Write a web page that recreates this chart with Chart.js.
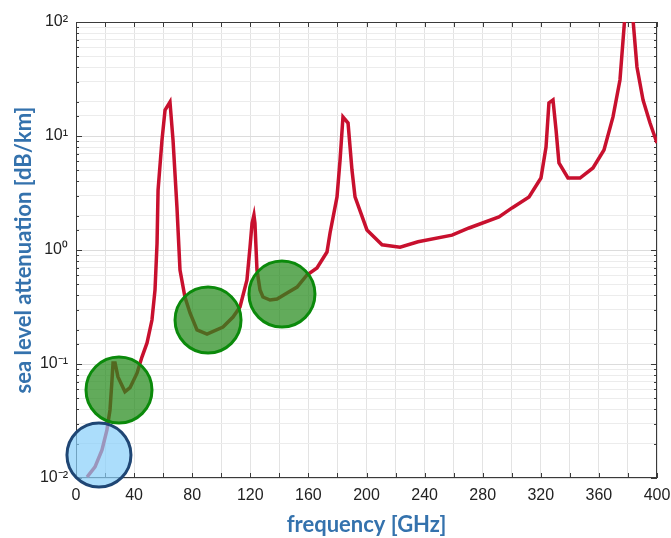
<!DOCTYPE html>
<html>
<head>
<meta charset="utf-8">
<script src="https://cdn.jsdelivr.net/npm/chart.js@4/dist/chart.umd.min.js"></script>
<style>
  html, body { margin: 0; padding: 0; background: #fff; }
  #wrap { width: 671px; height: 538px; }
</style>
</head>
<body>
<div id="wrap"><canvas id="atten"></canvas></div>
<script>
// sea-level specific attenuation vs frequency (dB/km)
const freqGHz = [
  7.6, 13.1, 17.9, 21.3, 23.4, 24.8, 25.5, 26.9, 28.9, 33.7, 37.2, 42.0, 45.4, 48.9,
  52.3, 54.4, 55.8, 56.5, 59.2, 61.3, 64.7, 66.8, 69.5, 71.6, 75.0, 78.5, 83.3, 90.2,
  101.2, 108.1, 112.9, 117.7, 119.8, 121.2, 122.5, 123.2, 124.6, 126.7, 128.7, 133.6,
  138.4, 145.3, 152.2, 159.0, 165.9, 172.8, 174.9, 179.7, 181.8, 183.8, 187.3, 190.0,
  192.1, 200.3, 210.7, 223.1, 235.5, 258.9, 270.6, 291.2, 300.2, 311.9, 320.1, 323.6,
  325.6, 328.4, 330.5, 332.5, 338.7, 347.0, 355.9, 363.5, 369.7, 374.5, 380.5, 386.2,
  390.4, 395.2, 400.0
];
const attenDbKm = [
  0.0102, 0.0125, 0.0176, 0.0264, 0.0395, 0.0724, 0.102, 0.102, 0.077, 0.057, 0.062, 0.083, 0.115, 0.153,
  0.243, 0.446, 1.15, 3.36, 9.2, 16.9, 19.9, 9.2, 2.38, 0.668, 0.387, 0.280, 0.199, 0.183,
  0.211, 0.258, 0.316, 0.546, 1.06, 1.72, 2.03, 1.72, 0.668, 0.446, 0.387, 0.364,
  0.372, 0.42, 0.473, 0.604, 0.695, 0.96, 1.41, 2.92, 6.16, 14.7, 13.0, 5.03,
  2.92, 1.50, 1.11, 1.06, 1.18, 1.35, 1.56, 1.95, 2.34, 2.92, 4.28, 8.0,
  19.5, 20.7, 11.3, 5.8, 4.28, 4.28, 5.24, 7.54, 14.7, 31.0, 300, 40.3,
  20.7, 13.0, 8.68
];

// atmospheric windows (green) and the low-frequency band (blue)
const windowFreq = [29.6, 90.9, 141.8];
const windowAtten = [0.0591, 0.243, 0.411];
const lowBandFreq = [15.8];
const lowBandAtten = [0.0159];

const xTickStep = 20;
const xLabelStep = 40;
const yMin = 0.01, yMax = 100;

const SUP = { '-': '\u207B', '0': '\u2070', '1': '\u00B9', '2': '\u00B2', '3': '\u00B3' };
const powLabel = e => '10' + String(e).split('').map(c => SUP[c]).join('');
const isDecade = v => Math.abs(Math.log10(v) - Math.round(Math.log10(v))) < 1e-9;

const TITLE_COLOR = '#3472ad';
const TICK_FONT = { family: 'Liberation Sans, Arial, sans-serif', size: 16 };
const TITLE_FONT = { family: 'Lato, sans-serif', size: 22, weight: 'bold' };

const toXY = (xs, ys) => xs.map((x, i) => ({ x, y: ys[i] }));

// box around the plot with inward tick marks on all four sides
const frameTicks = {
  id: 'frameTicks',
  beforeDatasetsDraw(chart) {
    const { ctx, chartArea: a, scales: { x, y } } = chart;
    ctx.save();
    ctx.strokeStyle = '#3a3a3a';
    ctx.lineWidth = 1;
    ctx.beginPath();
    x.ticks.forEach(t => {
      const px = Math.round(x.getPixelForValue(t.value)) + 0.5;
      ctx.moveTo(px, a.bottom); ctx.lineTo(px, a.bottom - 5);
      ctx.moveTo(px, a.top); ctx.lineTo(px, a.top + 5);
    });
    y.ticks.forEach(t => {
      const py = Math.round(y.getPixelForValue(t.value)) + 0.5;
      const len = isDecade(t.value) ? 6 : 3;
      ctx.moveTo(a.left, py); ctx.lineTo(a.left + len, py);
      ctx.moveTo(a.right, py); ctx.lineTo(a.right - len, py);
    });
    ctx.stroke();
    ctx.strokeRect(Math.round(a.left) + 0.5, Math.round(a.top) + 0.5,
                   Math.round(a.width) - 1, Math.round(a.height) - 1);
    ctx.restore();
  }
};

new Chart(document.getElementById('atten'), {
  type: 'line',
  data: {
    datasets: [
      {
        label: 'windows',
        data: toXY(windowFreq, windowAtten),
        showLine: false,
        pointRadius: 33,
        pointBackgroundColor: 'rgba(38, 138, 28, 0.72)',
        pointBorderColor: '#0b8a0b',
        pointBorderWidth: 3,
        clip: false,
        order: 0,
      },
      {
        label: 'low band',
        data: toXY(lowBandFreq, lowBandAtten),
        showLine: false,
        pointRadius: 32,
        pointBackgroundColor: 'rgba(135, 206, 250, 0.7)',
        pointBorderColor: '#1f4674',
        pointBorderWidth: 3,
        clip: false,
        order: 1,
      },
      {
        label: 'attenuation',
        data: toXY(freqGHz, attenDbKm),
        borderColor: '#c8102e',
        borderWidth: 3.5,
        pointRadius: 0,
        tension: 0,
        fill: false,
        order: 2,
      },
    ]
  },
  options: {
    responsive: true,
    maintainAspectRatio: false,
    animation: false,
    events: [],
    // the big circle markers must not push the plot inwards
    layout: { autoPadding: false, padding: { top: 22, right: 14, left: 0, bottom: 0 } },
    plugins: {
      legend: { display: false },
      tooltip: { enabled: false },
    },
    scales: {
      x: {
        type: 'linear',
        min: 0,
        max: 400,
        afterFit: s => { s.height = 60; s.paddingLeft = 0; s.paddingRight = 0; },
        border: { display: false },
        grid: { color: '#e3e3e3', lineWidth: 1, drawTicks: false },
        ticks: {
          stepSize: xTickStep,
          autoSkip: false,
          maxRotation: 0,
          padding: 8,
          color: '#222',
          font: TICK_FONT,
          callback: v => (v % xLabelStep === 0 ? String(v) : ''),
        },
        title: {
          display: true,
          text: 'frequency [GHz]',
          color: TITLE_COLOR,
          font: TITLE_FONT,
          padding: { top: 0, bottom: 0 },
        },
      },
      y: {
        type: 'logarithmic',
        min: yMin,
        max: yMax,
        afterFit: s => { s.width = 76; s.paddingTop = 0; s.paddingBottom = 0; },
        border: { display: false },
        grid: {
          drawTicks: false,
          lineWidth: 1,
          color: c => (c.tick && isDecade(c.tick.value) ? '#dcdcdc' : '#ececec'),
        },
        ticks: {
          autoSkip: false,
          padding: 8,
          color: '#222',
          font: TICK_FONT,
          callback: v => (isDecade(v) ? powLabel(Math.round(Math.log10(v))) : ''),
        },
        title: {
          display: true,
          text: 'sea level attenuation [dB/km]',
          color: TITLE_COLOR,
          font: TITLE_FONT,
          padding: { top: 11, bottom: 0 },
        },
      },
    },
  },
  plugins: [frameTicks],
});
</script>
</body>
</html>
